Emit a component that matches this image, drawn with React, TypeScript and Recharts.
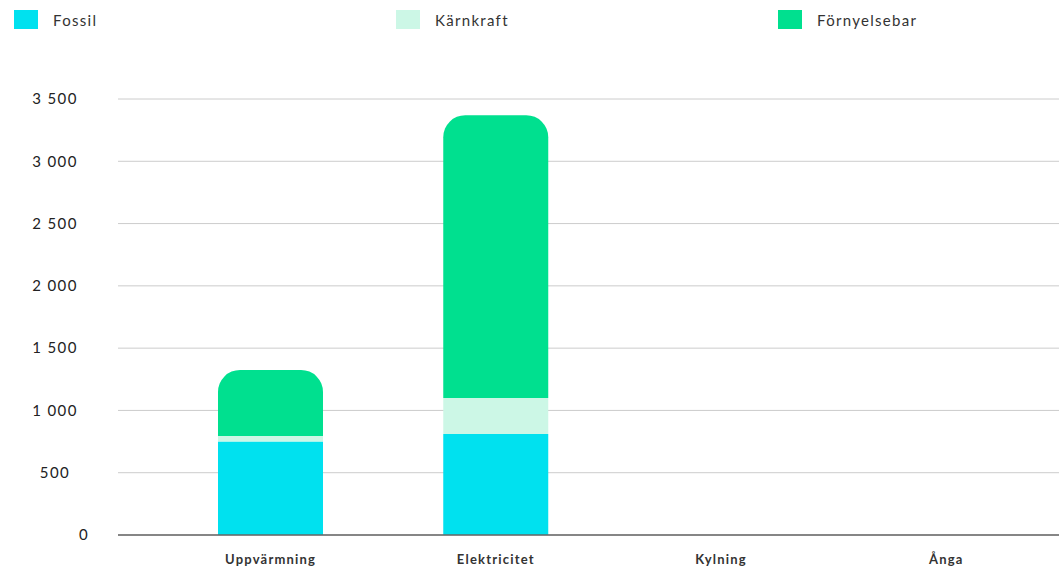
import React from 'react';
import { BarChart, Bar, XAxis, YAxis, CartesianGrid } from 'recharts';

// Category labels and values
const CATEGORIES = ['Uppvärmning', 'Elektricitet', 'Kylning', 'Ånga'];
const FOSSIL = [750, 810, 0, 0];
const KARNKRAFT = [45, 290, 0, 0];
const FORNYELSEBAR = [530, 2270, 0, 0];
const Y_TICKS = [0, 500, 1000, 1500, 2000, 2500, 3000, 3500];

const SERIES = [
  { key: 'fossil', name: 'Fossil', color: '#00E1EF' },
  { key: 'karnkraft', name: 'Kärnkraft', color: '#CCF7E6' },
  { key: 'fornyelsebar', name: 'Förnyelsebar', color: '#00E08F' },
];

const FONT = 'Lato, "Noto Sans", sans-serif';

const chartData = CATEGORIES.map((name, i) => ({
  name,
  fossil: FOSSIL[i],
  karnkraft: KARNKRAFT[i],
  fornyelsebar: FORNYELSEBAR[i],
}));

const formatNumber = (v: number) => v.toLocaleString('sv-SE');

const YTick = ({ y, payload }: any) => {
  const isZero = payload.value === 0;
  return (
    <text
      x={isZero ? 84 : 55}
      y={y}
      dy="0.35em"
      textAnchor="middle"
      fontSize={15}
      fill="#222"
      letterSpacing={1.4}
      fontFamily={FONT}
    >
      {formatNumber(payload.value)}
    </text>
  );
};

const App: React.FC = () => {
  return (
    <div style={styles.page}>
      <div style={styles.legend}>
        {SERIES.map((s) => (
          <div key={s.key} style={styles.legendItem}>
            <span style={{ ...styles.legendBox, backgroundColor: s.color }} />
            <span style={styles.legendLabel}>{s.name}</span>
          </div>
        ))}
      </div>
      <BarChart
        width={1059}
        height={568}
        data={chartData}
        margin={{ top: 99, right: 0, bottom: 3, left: 0 }}
        barCategoryGap={0}
      >
        <CartesianGrid vertical={false} stroke="#CCCCCC" />
        <XAxis
          dataKey="name"
          height={30}
          padding={{ left: 40, right: 0 }}
          tickLine={false}
          tickSize={0}
          tickMargin={20}
          axisLine={{ stroke: '#666666', strokeWidth: 1.5 }}
          tick={{ fontSize: 13, fontWeight: 700, fill: '#333', fontFamily: FONT, letterSpacing: 1.2 }}
          interval={0}
        />
        <YAxis
          width={118}
          domain={[0, 3500]}
          ticks={Y_TICKS}
          axisLine={false}
          tickLine={false}
          tick={<YTick />}
        />
        <Bar dataKey="fossil" stackId="a" fill={SERIES[0].color} barSize={105} isAnimationActive={false} />
        <Bar dataKey="karnkraft" stackId="a" fill={SERIES[1].color} barSize={105} isAnimationActive={false} />
        <Bar
          dataKey="fornyelsebar"
          stackId="a"
          fill={SERIES[2].color}
          barSize={105}
          radius={[22, 22, 0, 0]}
          isAnimationActive={false}
        />
      </BarChart>
    </div>
  );
};

const styles: Record<string, React.CSSProperties> = {
  page: {
    position: 'absolute',
    left: 0,
    top: 0,
    width: 1059,
    height: 568,
    background: '#FFFFFF',
    fontFamily: FONT,
  },
  legend: {
    position: 'absolute',
    left: 14,
    top: 10,
    display: 'flex',
    zIndex: 1,
  },
  legendItem: {
    display: 'flex',
    alignItems: 'center',
    width: 382,
  },
  legendBox: {
    display: 'inline-block',
    width: 24,
    height: 19,
  },
  legendLabel: {
    marginLeft: 15,
    fontSize: 15,
    color: '#333',
    letterSpacing: 1.3,
  },
};

export default App;
